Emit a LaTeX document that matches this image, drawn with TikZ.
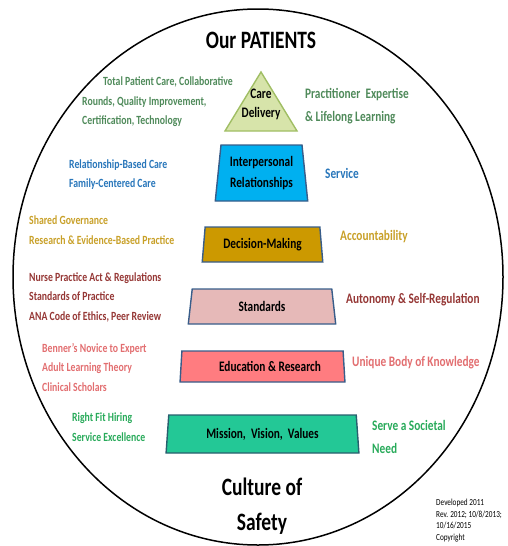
\documentclass[tikz,border=0pt]{standalone}
\usepackage{fontspec}
\setmainfont[FakeStretch=0.78]{Carlito}
\usetikzlibrary{shapes.geometric}

\definecolor{caregreen}{RGB}{79,138,90}
\definecolor{relblue}{RGB}{40,118,186}
\definecolor{decgold}{RGB}{200,160,40}
\definecolor{stdred}{RGB}{149,55,53}
\definecolor{edured}{RGB}{226,110,112}
\definecolor{misgreen}{RGB}{40,170,90}
\definecolor{carefill}{RGB}{215,228,170}
\definecolor{careline}{RGB}{160,190,100}
\definecolor{relfill}{RGB}{0,176,240}
\definecolor{decfill}{RGB}{204,153,0}
\definecolor{stdfill}{RGB}{230,185,184}
\definecolor{edufill}{RGB}{255,124,128}
\definecolor{misfill}{RGB}{35,200,150}
\definecolor{boxline}{RGB}{56,93,138}
\definecolor{misline}{RGB}{40,95,110}

\tikzset{
  level/.style={trapezium, trapezium stretches=true, draw=boxline,
    line width=1.4pt, inner sep=0pt, align=center,
    font=\bfseries\fontsize{14.5}{21}\selectfont},
  lefttext/.style={anchor=west, align=left, inner sep=0pt,
    font=\bfseries\fontsize{12.5}{19.5}\selectfont},
  righttext/.style={anchor=west, align=left, inner sep=0pt,
    font=\bfseries\fontsize{14.5}{22.5}\selectfont},
  bigtext/.style={align=center, inner sep=0pt,
    font=\bfseries\fontsize{25}{35}\selectfont}
}

\begin{document}
\begin{tikzpicture}[x=1pt,y=-1pt]
  \useasboundingbox (0,0) rectangle (507,546);

  % Outer circle
  \draw[line width=1.5pt] (258,277) ellipse [x radius=245, y radius=268];

  % Titles
  \node[bigtext] (patients) at (261,40) {Our PATIENTS};
  \node[bigtext] (culture) at (262,506) {Culture of\\Safety};

  % Pyramid
  \draw[fill=carefill, draw=careline, line width=1.4pt]
    (261,72) -- (297,131) -- (225,131) -- cycle;
  \node[align=center, inner sep=0pt, font=\bfseries\fontsize{14.5}{19}\selectfont]
    (care) at (261,104) {Care\\Delivery};
  \node[level, fill=relfill, minimum width=93pt, minimum height=56pt,
    trapezium angle=82.4] (rel) at (261.5,173) {Interpersonal\\Relationships};
  \node[level, fill=decfill, minimum width=121pt, minimum height=35pt,
    trapezium angle=81] (dec) at (262.5,244.5) {Decision-Making};
  \node[level, fill=stdfill, minimum width=148pt, minimum height=35pt,
    trapezium angle=82.7] (std) at (262,306.5) {Standards};
  \node[level, fill=edufill, minimum width=165pt, minimum height=31pt,
    trapezium angle=82.6] (edu) at (262.5,366.5) {\hspace*{15pt}Education \& Research};
  \node[level, fill=misfill, draw=misline, minimum width=193pt, minimum height=38pt,
    trapezium angle=82.5] (mis) at (262.5,434) {Mission,\ \ Vision,\ \ Values};

  % Left labels
  \node[lefttext, text=caregreen] (careleft) at (82,102)
    {\hspace*{21pt}Total Patient Care, Collaborative\\Rounds, Quality Improvement,\\Certification, Technology};
  \node[lefttext, text=relblue] (relleft) at (69,174.5)
    {Relationship-Based Care\\Family-Centered Care};
  \node[lefttext, text=decgold] (decleft) at (29,230)
    {Shared Governance\\Research \& Evidence-Based Practice};
  \node[lefttext, text=stdred] (stdleft) at (29,297)
    {Nurse Practice Act \& Regulations\\Standards of Practice\\ANA Code of Ethics, Peer Review};
  \node[lefttext, text=edured] (eduleft) at (42,367)
    {Benner’s Novice to Expert\\Adult Learning Theory\\Clinical Scholars};
  \node[lefttext, text=misgreen] (misleft) at (72,427)
    {Right Fit Hiring\\Service Excellence};

  % Right labels
  \node[righttext, text=caregreen] (careright) at (305,106)
    {Practitioner\ \ Expertise\\\& Lifelong Learning};
  \node[righttext, text=relblue] (relright) at (325,173) {Service};
  \node[righttext, text=decgold] (decright) at (340,237) {Accountability};
  \node[righttext, text=stdred] (stdright) at (346,300) {Autonomy \& Self-Regulation};
  \node[righttext, text=edured] (eduright) at (352,363) {Unique Body of Knowledge};
  \node[righttext, text=misgreen, font=\bfseries\fontsize{14.5}{23}\selectfont]
    (misright) at (372,436.5) {Serve a Societal\\Need};

  % Note
  \node[anchor=west, align=left, inner sep=0pt, font=\fontsize{9.3}{11.5}\selectfont]
    (note) at (436,520.5) {Developed 2011\\Rev. 2012; 10/8/2013;\\10/16/2015\\Copyright};
\end{tikzpicture}
\end{document}
